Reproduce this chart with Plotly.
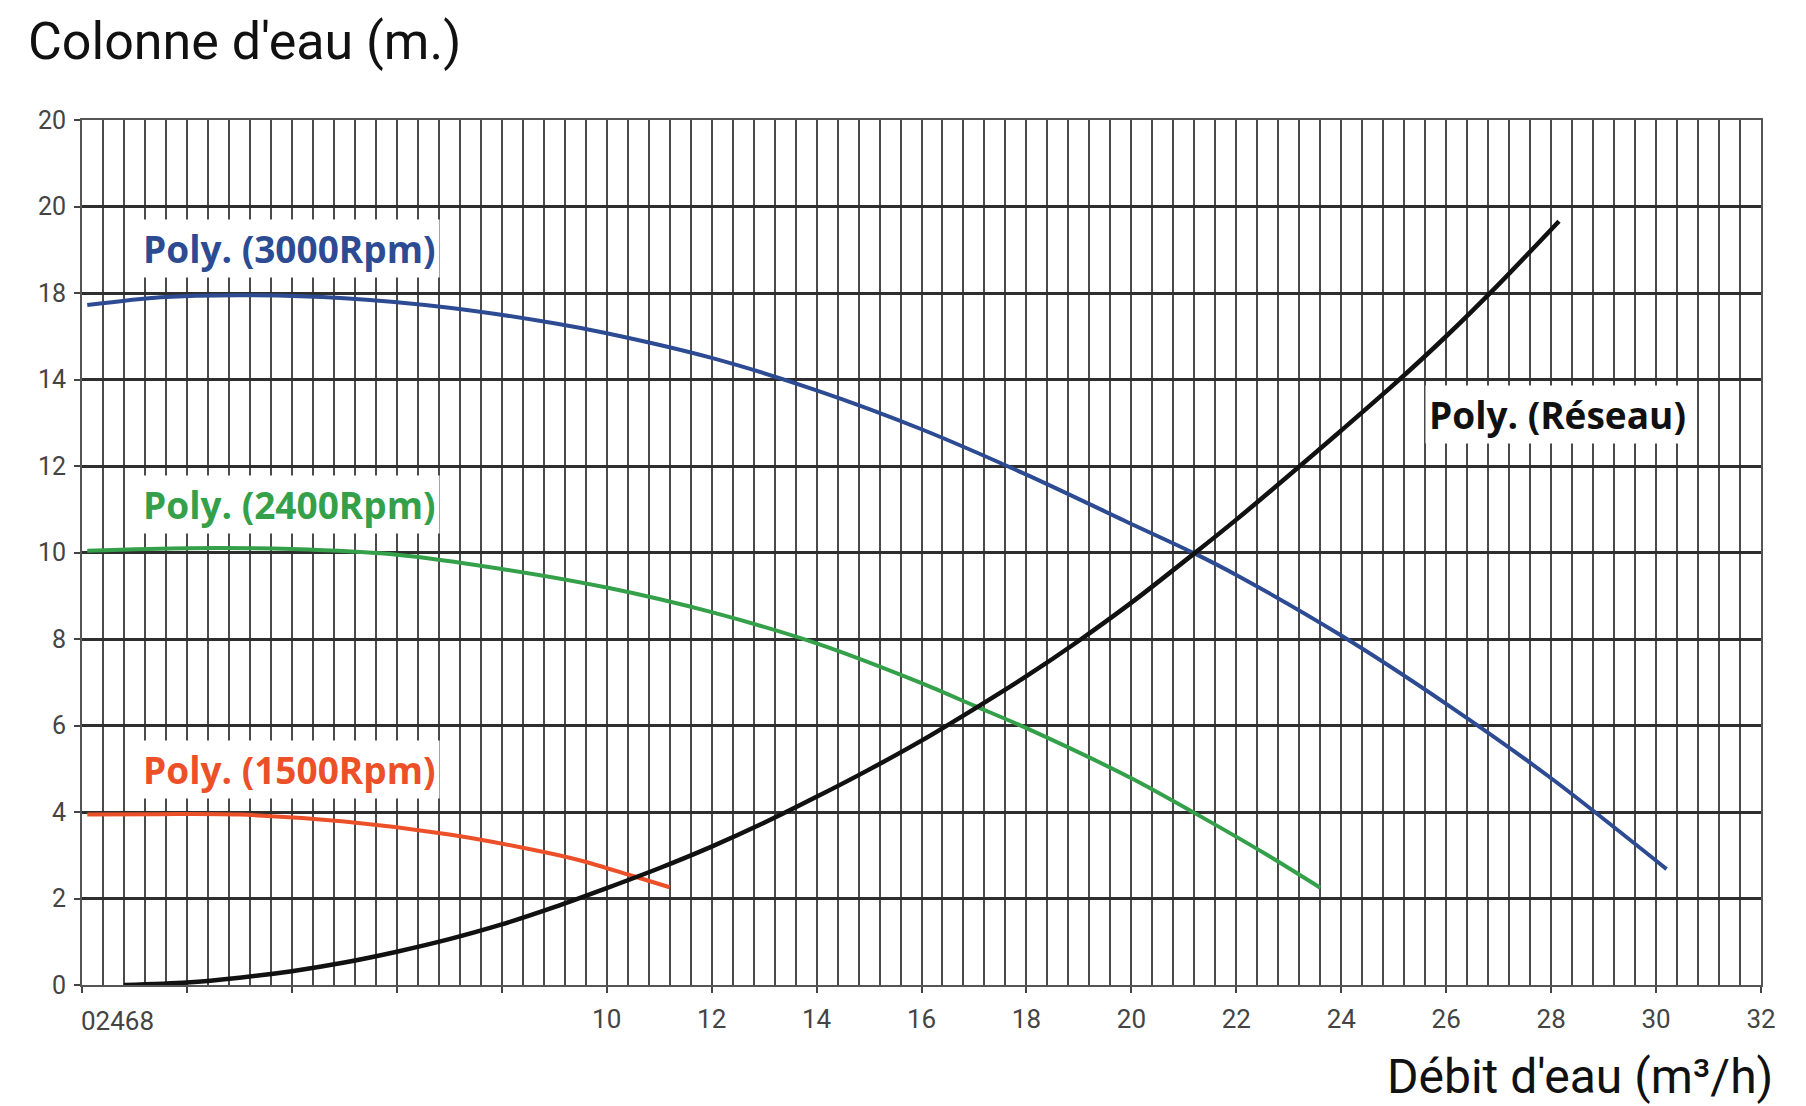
import plotly.graph_objects as go

# ---- data (x in m3/h, y in axis units) ----
x_3000 = [0.1, 1.5, 3, 5, 7, 9, 10, 12, 14, 16, 18, 20, 21.2, 22, 24, 26, 28, 30.2]
y_3000 = [15.72, 15.9, 15.95, 15.88, 15.66, 15.3, 15.07, 14.5, 13.75, 12.85, 11.8, 10.66, 9.98, 9.48, 8.08, 6.5, 4.78, 2.68]

x_2400 = [0.1, 2, 4, 6, 8, 10, 12, 14, 16, 17, 18, 20, 21.2, 22.6, 23.6]
y_2400 = [10.04, 10.1, 10.08, 9.95, 9.62, 9.19, 8.62, 7.9, 6.98, 6.46, 5.94, 4.78, 3.98, 3.0, 2.25]

x_1500 = [0.1, 1.5, 3, 5, 7, 8.5, 9.5, 10.5, 11.2]
y_1500 = [3.94, 3.95, 3.94, 3.78, 3.48, 3.15, 2.88, 2.52, 2.26]

x_res = [0.8, 2, 3, 4, 5, 6, 7, 8, 9, 10, 11, 12, 13, 14, 15, 16, 17, 18, 19, 20, 21.2, 22, 23, 24, 25, 26, 27, 28.15]
y_res = [0, 0.06, 0.17, 0.32, 0.52, 0.77, 1.06, 1.4, 1.8, 2.24, 2.7, 3.2, 3.75, 4.35, 4.98, 5.65, 6.38, 7.14, 7.96, 8.84, 9.98, 10.76, 11.78, 12.82, 13.88, 15.0, 16.2, 17.66]

x_tickvals = list(range(0, 33, 2))
x_ticktext = ["", "", "", "", "", "10", "12", "14", "16", "18", "20", "22", "24", "26", "28", "30", "32"]
y_tickvals = list(range(0, 21, 2))
y_ticktext = ["0", "2", "4", "6", "8", "10", "12", "14", "18", "20", "20"]

series = [
    ("Poly. (3000Rpm)", x_3000, y_3000, "#2d4b92", 4),
    ("Poly. (2400Rpm)", x_2400, y_2400, "#35a04a", 4),
    ("Poly. (1500Rpm)", x_1500, y_1500, "#ec5028", 4),
    ("Poly. (Réseau)", x_res, y_res, "#111111", 4.5),
]
label_pos = {
    "Poly. (3000Rpm)": (3.96, 17.02),
    "Poly. (2400Rpm)": (3.96, 11.11),
    "Poly. (1500Rpm)": (3.96, 4.98),
    "Poly. (Réseau)": (28.12, 13.18),
}

tick_font = "Liberation Sans Narrow, Roboto, sans-serif"

fig = go.Figure()
for name, xs, ys, col, w in series:
    fig.add_trace(go.Scatter(x=xs, y=ys, mode="lines", name=name,
                             line=dict(color=col, width=w, shape="spline", smoothing=0.8),
                             showlegend=False))

for name, xs, ys, col, w in series:
    lx, ly = label_pos[name]
    fig.add_annotation(x=lx, y=ly, xref="x", yref="y", text="<b>%s</b>" % name,
                       showarrow=False, bgcolor="white", borderpad=3,
                       font=dict(family="Open Sans", size=37, color=col))

fig.add_annotation(x=0, y=0, xref="x", yref="paper", text="02468", showarrow=False,
                   xanchor="left", yanchor="top", xshift=-3, yshift=-19,
                   font=dict(family=tick_font, size=26, color="#444444"))

fig.add_annotation(x=0, y=1, xref="paper", yref="paper", xanchor="left", yanchor="top",
                   text="Colonne d'eau (m.)", showarrow=False, xshift=-56, yshift=111,
                   font=dict(family="Roboto", size=52, color="#111111"))

fig.add_annotation(x=1, y=0, xref="paper", yref="paper", xanchor="right", yanchor="top",
                   text="Débit d'eau (m³/h)", showarrow=False, xshift=14, yshift=-61,
                   font=dict(family="Roboto", size=48, color="#111111"))

fig.update_xaxes(range=[0, 32], tickmode="array", tickvals=x_tickvals, ticktext=x_ticktext,
                 showgrid=True, gridcolor="#4a4a4a", gridwidth=1.8,
                 minor=dict(tickmode="linear", tick0=0, dtick=0.4, showgrid=True,
                            gridcolor="#4a4a4a", gridwidth=1.8),
                 ticks="outside", ticklen=6, tickcolor="#444444", tickwidth=1.5,
                 ticklabelstandoff=4,
                 showline=True, linecolor="#555555", linewidth=2, mirror=True,
                 zeroline=False,
                 tickfont=dict(family=tick_font, size=26, color="#444444"))
fig.update_yaxes(range=[0, 20], tickmode="array", tickvals=y_tickvals, ticktext=y_ticktext,
                 showgrid=True, gridcolor="#2e2e2e", gridwidth=2.6,
                 ticks="outside", ticklen=6, tickcolor="#444444", tickwidth=1.5,
                 ticklabelstandoff=3,
                 showline=True, linecolor="#555555", linewidth=2, mirror=True,
                 zeroline=False,
                 tickfont=dict(family=tick_font, size=25, color="#444444"))

fig.update_layout(width=1806, height=1106, paper_bgcolor="white", plot_bgcolor="white",
                  margin=dict(l=82, r=45, t=120, b=121), showlegend=False)

fig.write_html("out.html", config={"displayModeBar": False},
               post_script="document.body.style.margin='0';")
